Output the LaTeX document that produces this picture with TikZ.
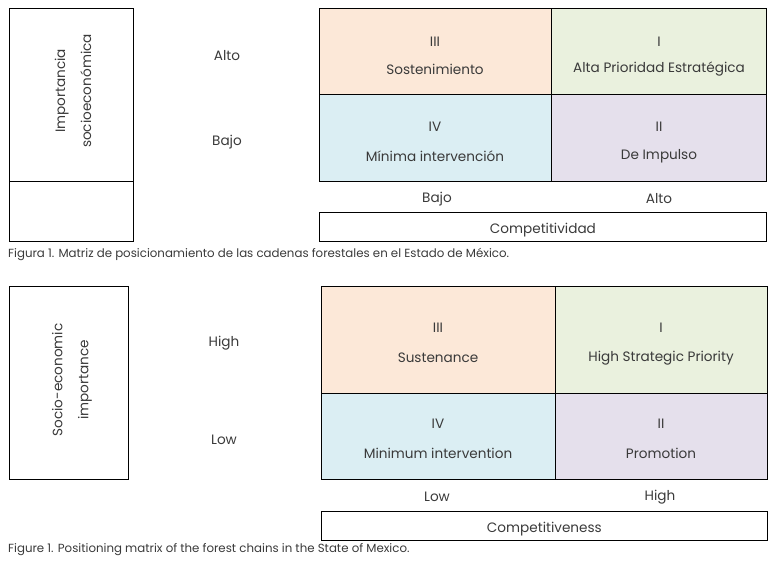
\documentclass[tikz,border=0pt]{standalone}
\usepackage{fontspec}
\setmainfont{Poppins}
\definecolor{peach}{HTML}{FCE8D8}
\definecolor{leaf}{HTML}{EAF1DE}
\definecolor{sky}{HTML}{DBEEF3}
\definecolor{lilac}{HTML}{E5E0EC}
\definecolor{ink}{HTML}{3A3A3A}
\begin{document}
\begin{tikzpicture}[x=1pt,y=-1pt,
  frame/.style={draw=black,line width=0.8pt,rectangle,inner sep=0pt,anchor=north west},
  lbl/.style={text=ink,font=\fontsize{13.6}{15}\selectfont,inner sep=0pt},
  captext/.style={text=ink,font=\fontsize{11.8}{13}\selectfont,inner sep=0pt,anchor=west}]
\useasboundingbox (0,0) rectangle (778,563);
% ---------- top figure ----------
\node[frame,minimum width=124pt,minimum height=173pt] (tl) at (9,8) {};
\node[frame,minimum width=124pt,minimum height=60pt] (tlb) at (9,181) {};
\node[lbl,rotate=90,align=center] (tlt) at (73,91) {Importancia\\[11pt]socioeconómica};
\node[lbl] (talto) at (227,56) {Alto};
\node[lbl] (tbajo) at (227,142) {Bajo};
\node[frame,fill=peach,minimum width=232pt,minimum height=86pt] (t3) at (319,8) {};
\node[frame,fill=leaf,minimum width=215pt,minimum height=86pt] (t1) at (551,8) {};
\node[frame,fill=sky,minimum width=232pt,minimum height=87pt] (t4) at (319,94) {};
\node[frame,fill=lilac,minimum width=215pt,minimum height=87pt] (t2) at (551,94) {};
\node[lbl] (t3n) at (435,42) {III};
\node[lbl] (t3t) at (435,69) {Sostenimiento};
\node[lbl] (t1n) at (659,42) {I};
\node[lbl] (t1t) at (659,69) {Alta Prioridad Estratégica};
\node[lbl] (t4n) at (435,127) {IV};
\node[lbl] (t4t) at (435,156) {Mínima intervención};
\node[lbl] (t2n) at (659,127) {II};
\node[lbl] (t2t) at (659,156) {De Impulso};
\node[lbl] (txb) at (437,199) {Bajo};
\node[lbl] (txa) at (659,199) {Alto};
\node[frame,minimum width=447pt,minimum height=29pt] (tcomp) at (319,212) {};
\node[lbl,yshift=-3pt] at (tcomp.center) {Competitividad};
\node[captext] (tcap) at (8,254) {Figura 1. Matriz de posicionamiento de las cadenas forestales en el Estado de México.};
% ---------- bottom figure ----------
\node[frame,minimum width=119pt,minimum height=193pt] (bl) at (9,286) {};
\node[lbl,rotate=90,align=center] (blt) at (72,380) {Socio-economic\\[11pt]importance};
\node[lbl] (bhigh) at (224,343) {High};
\node[lbl] (blow) at (224,440) {Low};
\node[frame,fill=peach,minimum width=234pt,minimum height=107pt] (b3) at (321,286) {};
\node[frame,fill=leaf,minimum width=212pt,minimum height=107pt] (b1) at (555,286) {};
\node[frame,fill=sky,minimum width=234pt,minimum height=86pt] (b4) at (321,393) {};
\node[frame,fill=lilac,minimum width=212pt,minimum height=86pt] (b2) at (555,393) {};
\node[lbl] (b3n) at (438,328) {III};
\node[lbl] (b3t) at (438,358) {Sustenance};
\node[lbl] (b1n) at (661,328) {I};
\node[lbl] (b1t) at (661,358) {High Strategic Priority};
\node[lbl] (b4n) at (438,424) {IV};
\node[lbl] (b4t) at (438,453) {Minimum intervention};
\node[lbl] (b2n) at (661,424) {II};
\node[lbl] (b2t) at (661,453) {Promotion};
\node[lbl] (bxl) at (437,497) {Low};
\node[lbl] (bxh) at (660,497) {High};
\node[frame,minimum width=446pt,minimum height=29pt] (bcomp) at (321,511) {};
\node[lbl,yshift=-3pt] at (bcomp.center) {Competitiveness};
\node[captext] (bcap) at (8,550) {Figure 1. Positioning matrix of the forest chains in the State of Mexico.};
\end{tikzpicture}
\end{document}
